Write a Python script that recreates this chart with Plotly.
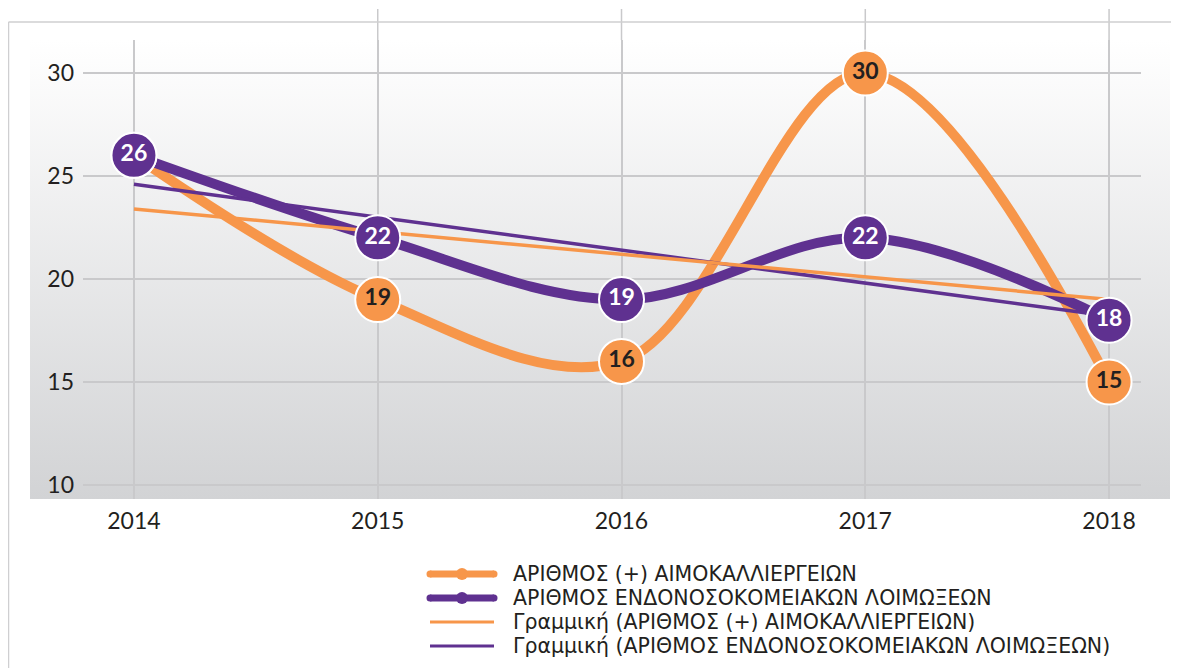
import plotly.graph_objects as go

# data
years = ["2014", "2015", "2016", "2017", "2018"]
cultures = [26, 19, 16, 30, 15]          # ΑΡΙΘΜΟΣ (+) ΑΙΜΟΚΑΛΛΙΕΡΓΕΙΩΝ
infections = [26, 22, 19, 22, 18]        # ΑΡΙΘΜΟΣ ΕΝΔΟΝΟΣΟΚΟΜΕΙΑΚΩΝ ΛΟΙΜΩΞΕΩΝ
trend_years = ["2014", "2018"]
cultures_trend = [23.4, 19.0]
infections_trend = [24.6, 18.2]
y_ticks = [10, 15, 20, 25, 30]

ORANGE = "#F7964A"
PURPLE = "#5F3190"
GRID = "#c9c9cb"
FONT = "Lato"
X_RANGE = [-0.209, 4.131]

W, H = 1179, 668
ML, MR, MT, MB = 75, 46, 32, 177
PW, PH = W - ML - MR, H - MT - MB


def px_x(fx):
    return (fx - ML) / PW


def px_y(fy):
    return (H - MB - fy) / PH


names = [
    "ΑΡΙΘΜΟΣ (+) ΑΙΜΟΚΑΛΛΙΕΡΓΕΙΩΝ",
    "ΑΡΙΘΜΟΣ ΕΝΔΟΝΟΣΟΚΟΜΕΙΑΚΩΝ ΛΟΙΜΩΞΕΩΝ",
    "Γραμμική (ΑΡΙΘΜΟΣ (+) ΑΙΜΟΚΑΛΛΙΕΡΓΕΙΩΝ)",
    "Γραμμική (ΑΡΙΘΜΟΣ ΕΝΔΟΝΟΣΟΚΟΜΕΙΑΚΩΝ ΛΟΙΜΩΞΕΩΝ)",
]
colors = [ORANGE, PURPLE, ORANGE, PURPLE]

fig = go.Figure()

# smoothed series lines
fig.add_trace(go.Scatter(
    x=years, y=cultures, name=names[0], mode="lines",
    line=dict(color=ORANGE, width=10, shape="spline"),
))
fig.add_trace(go.Scatter(
    x=years, y=infections, name=names[1], mode="lines",
    line=dict(color=PURPLE, width=10, shape="spline"),
))
# trend lines over the thick lines
fig.add_trace(go.Scatter(
    x=trend_years, y=infections_trend, name=names[3],
    mode="lines", line=dict(color=PURPLE, width=3.5),
))
fig.add_trace(go.Scatter(
    x=trend_years, y=cultures_trend, name=names[2],
    mode="lines", line=dict(color=ORANGE, width=3.5),
))
# value markers on top of everything
fig.add_trace(go.Scatter(
    x=years, y=cultures, name=names[0], mode="markers+text",
    marker=dict(size=45, color=ORANGE, line=dict(color="white", width=2)),
    text=[str(v) for v in cultures], textposition="middle center",
    textfont=dict(family=FONT, size=23, color="#231f20", weight="bold"),
))
fig.add_trace(go.Scatter(
    x=years, y=infections, name=names[1], mode="markers+text",
    marker=dict(size=45, color=PURPLE, line=dict(color="white", width=2)),
    text=[str(v) for v in infections], textposition="middle center",
    textfont=dict(family=FONT, size=23, color="white", weight="bold"),
))

# gradient background of the plot area
grad_svg = (
    "data:image/svg+xml;utf8,<svg xmlns='http://www.w3.org/2000/svg' width='100' height='100' "
    "preserveAspectRatio='none'><defs><linearGradient id='g' x1='0' y1='0' x2='0' y2='1'>"
    "<stop offset='0' stop-color='%23ffffff'/><stop offset='1' stop-color='%23d2d3d5'/>"
    "</linearGradient></defs><rect width='100' height='100' fill='url(%23g)'/></svg>"
)
fig.add_layout_image(dict(
    source=grad_svg, xref="paper", yref="paper",
    x=px_x(22), y=1.0, sizex=1140 / PW, sizey=1.0,
    xanchor="left", yanchor="top", sizing="stretch", layer="below",
))

# vertical gridlines poking above the plot area (2015-2018)
for i in range(1, len(years)):
    gx = (i - X_RANGE[0]) / (X_RANGE[1] - X_RANGE[0])
    fig.add_shape(type="line", xref="paper", yref="paper", x0=gx, x1=gx, y0=1.0, y1=px_y(1),
                  line=dict(color=GRID, width=1.5))

# outer frame (left and top edges)
fig.add_shape(type="line", xref="paper", yref="paper", x0=px_x(0.5), x1=px_x(0.5),
              y0=px_y(H + 10), y1=px_y(14), line=dict(color="#cfcfd1", width=1.5))
fig.add_shape(type="line", xref="paper", yref="paper", x0=px_x(0.5), x1=px_x(W + 10),
              y0=px_y(14), y1=px_y(14), line=dict(color="#cfcfd1", width=1.5))

# legend drawn by hand so that the spacing follows the original
row_y = [566, 590, 614, 638]
for k, (name, col) in enumerate(zip(names, colors)):
    ly = px_y(row_y[k])
    thick = k < 2
    fig.add_shape(type="line", xref="paper", yref="paper",
                  x0=px_x(422), x1=px_x(486), y0=ly, y1=ly,
                  line=dict(color=col, width=7 if thick else 3))
    if thick:
        # rounded ends and the marker dot
        for cx, r in ((422, 3.5), (486, 3.5), (454, 6)):
            fig.add_shape(type="circle", xref="paper", yref="paper",
                          x0=px_x(cx - r), x1=px_x(cx + r),
                          y0=px_y(row_y[k] + r), y1=px_y(row_y[k] - r),
                          fillcolor=col, line=dict(color=col, width=0))
    fig.add_annotation(x=px_x(503), y=ly, xref="paper", yref="paper",
                       text=name, showarrow=False, xanchor="left", yanchor="middle",
                       font=dict(family="DejaVu Sans", size=20.5, color="#231f20"))

fig.update_xaxes(
    type="category", categoryorder="array", categoryarray=years, range=X_RANGE,
    showgrid=True, gridcolor=GRID, gridwidth=1.5, zeroline=False, showline=False,
    ticks="", ticklabelstandoff=6,
    tickfont=dict(family=FONT, size=23, color="#231f20"),
)
fig.update_yaxes(
    range=[9.32, 31.6], tickvals=y_ticks,
    showgrid=True, gridcolor=GRID, gridwidth=1.5, zeroline=False, showline=False,
    ticks="", ticklabelstandoff=8,
    tickfont=dict(family=FONT, size=23, color="#231f20"),
)

fig.update_layout(
    width=W, height=H,
    margin=dict(l=ML, r=MR, t=MT, b=MB, autoexpand=False),
    paper_bgcolor="white", plot_bgcolor="rgba(0,0,0,0)",
    font=dict(family=FONT, color="#231f20"),
    showlegend=False,
)

fig.write_html("out.html")
